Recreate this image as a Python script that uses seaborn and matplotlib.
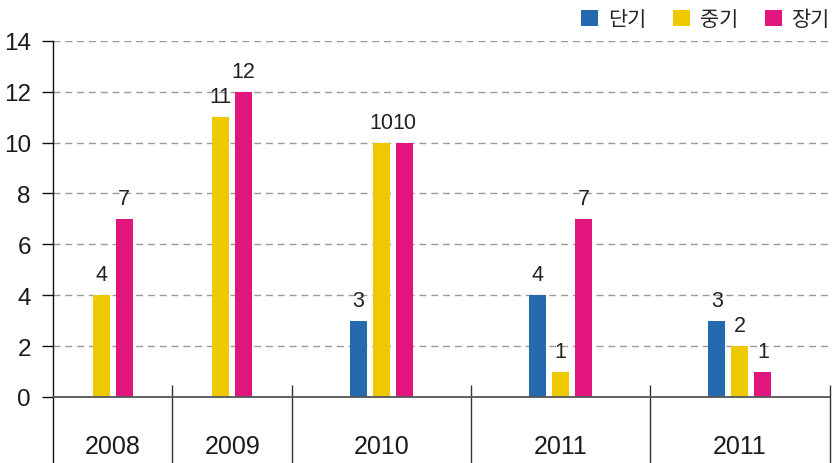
import numpy as np
import pandas as pd
import matplotlib
matplotlib.use("Agg")
import matplotlib.pyplot as plt
import seaborn as sns

# ---- data ----
categories = ["2008", "2009", "2010", "2011", "2011"]
series_names = ["단기", "중기", "장기"]
short_term = [None, None, 3, 4, 3]
mid_term = [4, 11, 10, 1, 2]
long_term = [7, 12, 10, 7, 1]
colors = ["#2569AE", "#EEC900", "#E2147E"]

# ---- layout (slot units: each present bar gets one slot of group width) ----
pitch = 23 / 59.73
bar_w = 17 / 23

rows = []
edges = [0.0]
centers = []
for i, cat in enumerate(categories):
    vals = [short_term[i], mid_term[i], long_term[i]]
    present = [(s, v) for s, v in zip(series_names, vals) if v is not None]
    n = len(present)
    left = edges[-1]
    center = left + n / 2
    centers.append(center)
    edges.append(left + n)
    for j, (s, v) in enumerate(present):
        rows.append({"pos": center + (j - (n - 1) / 2) * pitch, "value": v, "series": s})
df = pd.DataFrame(rows)

sns.set_theme(style="white")
plt.rcParams["font.family"] = ["Liberation Sans", "Noto Sans CJK KR"]

W, H = 833, 464
fig = plt.figure(figsize=(W / 100, H / 100), dpi=100)
top_px, zero_px, left_px, right_px = 41.7, 398.0, 53.0, 829.6
ax = fig.add_axes([left_px / W, 0, (right_px - left_px) / W, (H - top_px) / H])

ppu = (zero_px - top_px) / 14
ybot = -(H - zero_px) / ppu

sns.barplot(data=df, x="pos", y="value", hue="series", hue_order=series_names,
            palette=colors, native_scale=True, dodge=False, width=bar_w,
            errorbar=None, ax=ax, saturation=1, linewidth=0, edgecolor="none")

for c in ax.containers:
    ax.bar_label(c, fmt="%g", padding=7, fontsize=15.5, color="#222222")

ax.set_xlim(edges[0], edges[-1])
ax.set_ylim(ybot, 14)
ax.set_yticks(range(0, 15, 2))
ax.set_yticklabels([str(v) for v in range(0, 15, 2)], fontsize=17.5, color="#1a1a1a")
ax.set_xticks([])
ax.set_xlabel("")
ax.set_ylabel("")

ax.tick_params(axis="y", left=True, length=8, width=1, color="#111111", pad=8)
for y in range(2, 15, 2):
    ax.axhline(y, color="#9a9a9a", lw=1, ls=(0, (5, 3.5)), zorder=0)
ax.axhline(0, color="#555555", lw=1.3, zorder=3)

for sp in ["top", "right", "bottom"]:
    ax.spines[sp].set_visible(False)
ax.spines["left"].set_color("#111111")
ax.spines["left"].set_linewidth(1)

sep_top = (zero_px - 386) / ppu
ax.vlines(edges[1:], ybot, sep_top, color="#333333", lw=1, clip_on=False)

label_y = -(447 - zero_px) / ppu
for c, cat in zip(centers, categories):
    ax.text(c, label_y, cat, ha="center", va="center", fontsize=18, color="#1a1a1a")

sns.move_legend(ax, "center right", bbox_to_anchor=(1.0, 1 + (top_px - 20.5) / (H - top_px)),
                ncol=3, title=None, frameon=False, fontsize=15,
                handlelength=0.82, handleheight=0.82, handletextpad=0.45,
                columnspacing=1.3, borderaxespad=0, borderpad=0)

fig.savefig("out.png", dpi=100)
